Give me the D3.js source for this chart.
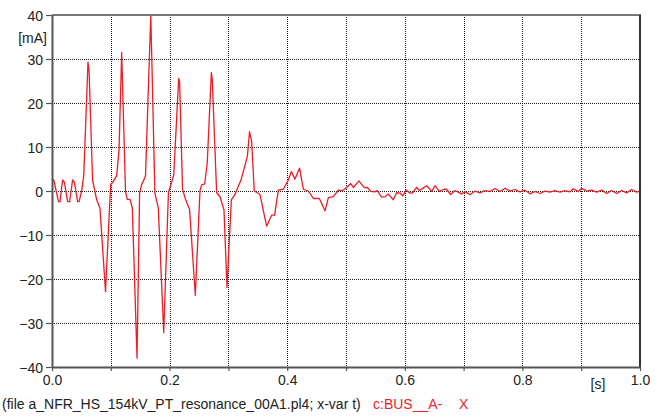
<!DOCTYPE html>
<html>
<head>
<meta charset="utf-8">
<script src="https://cdn.jsdelivr.net/npm/d3@7"></script>
<style>
html,body{margin:0;padding:0;background:#fff;}
svg{display:block;}
text{font-family:"Liberation Sans",Arial,sans-serif;}
</style>
</head>
<body>
<svg id="chart" width="664" height="419"></svg>
<script>
const timeS = [0.000,0.003,0.011,0.0136,0.018,0.021,0.0266,0.030,0.035,0.038,0.0436,0.046,0.0505,0.054,0.0612,0.063,0.069,0.076,0.0816,0.091,
0.0998,0.103,0.110,0.114,0.1185,0.125,0.128,0.1327,0.1366,0.1446,0.149,0.1525,0.159,0.168,0.175,0.1808,0.190,0.198,0.207,0.2155,
0.217,0.222,0.227,0.234,0.2437,0.2517,0.2545,0.2596,0.264,0.271,0.2725,0.280,0.2857,0.2925,0.2976,0.305,0.3107,0.3214,0.3322,0.336,
0.3396,0.344,0.3537,0.365,0.3735,0.3786,0.3849,0.3934,0.4019,0.4070,0.4133,0.4210,0.4275,0.436,0.4445,0.4546,0.4643,0.470,0.4785,0.487,
0.4944,0.5012,0.508,0.5125,0.5221,0.5306,0.5363,0.542,0.549,0.553,0.5607,0.5663,0.572,0.5805,0.5862,0.592,0.5964,0.602,0.609,0.6134,
0.6202,0.6247,0.6304,0.6372,0.6457,0.6513,0.6587,0.6667,0.671,0.678,0.6854,0.6967,0.7024,0.7109,0.7194,0.7279,0.7364,0.7449,0.7534,0.7619,
0.7704,0.7789,0.7874,0.7959,0.8044,0.8129,0.8214,0.8299,0.8384,0.8469,0.8554,0.8639,0.8724,0.8810,0.8866,0.8951,0.9008,0.9093,0.9178,0.9263,
0.9348,0.9433,0.9518,0.9603,0.9688,0.9773,0.9858,0.9943,1.0];
const currentMA = [2.5,2.5,-2.4,-2.4,2.5,2.0,-2.4,-2.4,2.5,2.0,-2.4,-2.4,0,3.6,29.3,27.5,2.5,-2.0,-3.9,-22.9,
1.6,1.9,3.5,9.3,31.5,-0.1,-1.9,-1.9,-3.8,-38,-0.4,1.4,3.4,40,-0.5,-3.9,-32.2,-0.4,3.6,25.6,
24.8,0.4,-1.9,-4.2,-23.7,0.1,1.4,1.6,6.3,26.9,25.5,-0.4,-1.3,-4.3,-21.9,-2.0,-0.9,2.5,7.8,13.5,
11.2,0,-0.8,-8.0,-5.5,-5.5,0.2,0.4,2.5,4.4,2.7,5.2,0.4,0,-1.7,-1.7,-4.5,-1.5,-1.3,0.2,
0.1,0.8,1.7,0.8,2.3,0.8,0.8,-0.1,-0.2,0.1,-1.4,-1.3,-0.7,-2.0,-0.4,-0.5,-1.1,0.2,-0.5,-0.4,
0.8,0.1,0.6,1.2,-0.1,1.2,-0.1,0.4,0.4,-0.8,0.1,-0.64,-0.19,-0.8,-0.04,-0.42,0.11,-0.11,0.57,-0.11,
0.64,-0.04,0.34,-0.19,0.19,-0.64,-0.11,-0.57,-0.04,-0.27,0.11,-0.27,0.11,-0.19,0.49,-0.11,0.64,-0.04,0.19,-0.27,
0.19,-0.57,0.11,-0.57,0.11,-0.42,0.34,-0.27,-0.04];
const xTicks = [0,0.1,0.2,0.3,0.4,0.5,0.6,0.7,0.8,0.9,1.0];
const xTickLabels = ["0.0","","0.2","","0.4","","0.6","","0.8","","1.0"];
const yTicks = [-40,-30,-20,-10,0,10,20,30,40];
const yUnit = "[mA]";
const xUnit = "[s]";
const footerFile = "(file a_NFR_HS_154kV_PT_resonance_00A1.pl4; x-var t)";
const footerSeries = "c:BUS__A-";
const footerMark = "X";

const svg = d3.select("#chart");
const L = 52, R = 640, T = 15, B = 367;
const x = d3.scaleLinear().domain([0,1]).range([L,R]);
const y = d3.scaleLinear().domain([-40,40]).range([B,T]);

// grid
const grid = svg.append("g").attr("stroke","#1a1a1a").attr("stroke-width",1).attr("stroke-dasharray","1,1").attr("shape-rendering","crispEdges");
grid.selectAll("line.v").data(xTicks.slice(1,-1)).enter().append("line")
  .attr("x1",d=>Math.round(x(d))+0.5).attr("x2",d=>Math.round(x(d))+0.5).attr("y1",T).attr("y2",B);
grid.selectAll("line.h").data(yTicks.slice(1,-1)).enter().append("line")
  .attr("y1",d=>Math.round(y(d))+0.5).attr("y2",d=>Math.round(y(d))+0.5).attr("x1",L).attr("x2",R);

// clip
svg.append("clipPath").attr("id","clip").append("rect").attr("x",L).attr("y",T-1).attr("width",R-L).attr("height",B-T+2);

// line
const data = timeS.map((t,i)=>[t,currentMA[i]]);
svg.append("path").datum(data).attr("clip-path","url(#clip)")
  .attr("fill","none").attr("stroke","#ee1c25").attr("stroke-width",1.3).attr("stroke-linejoin","round")
  .attr("d", d3.line().x(d=>x(d[0])).y(d=>y(d[1])));

// frame top/right
svg.append("line").attr("x1",L).attr("x2",R+1).attr("y1",T).attr("y2",T).attr("stroke","#777").attr("stroke-width",2);
svg.append("line").attr("x1",R).attr("x2",R).attr("y1",T).attr("y2",B).attr("stroke","#333").attr("stroke-width",2);

// axes
const xAxis = d3.axisBottom(x).tickValues(xTicks).tickFormat((d,i)=>xTickLabels[i]).tickSize(4).tickSizeOuter(0).tickPadding(4);
const gx = svg.append("g").attr("transform",`translate(0,${B})`).call(xAxis);
const yAxis = d3.axisLeft(y).tickValues(yTicks).tickFormat(d3.format("d")).tickSize(6).tickSizeOuter(0).tickPadding(3);
const gy = svg.append("g").attr("transform",`translate(${L},0)`).call(yAxis);
[gx,gy].forEach(g=>{
  g.select(".domain").attr("stroke","#555").attr("stroke-width",2);
  g.selectAll(".tick line").attr("stroke","#555").attr("stroke-width",1.2);
  g.selectAll(".tick text").attr("fill","#222").style("font-size","14px").style("font-family","'Liberation Sans',Arial,sans-serif");
});
gy.selectAll(".tick text").attr("dy","0.36em");

// units
svg.append("text").attr("x",47).attr("y",43).attr("text-anchor","end").attr("fill","#222").style("font-size","14px").text(yUnit);
svg.append("text").attr("x",598).attr("y",389).attr("text-anchor","middle").attr("fill","#222").style("font-size","14px").text(xUnit);

// footer
svg.append("text").attr("x",2).attr("y",409).attr("fill","#222").style("font-size","14px").text(footerFile);
svg.append("text").attr("x",373).attr("y",409).attr("fill","#ee1c25").style("font-size","14px").text(footerSeries);
svg.append("text").attr("x",459).attr("y",409).attr("fill","#ee1c25").style("font-size","14px").text(footerMark);
</script>
</body>
</html>
